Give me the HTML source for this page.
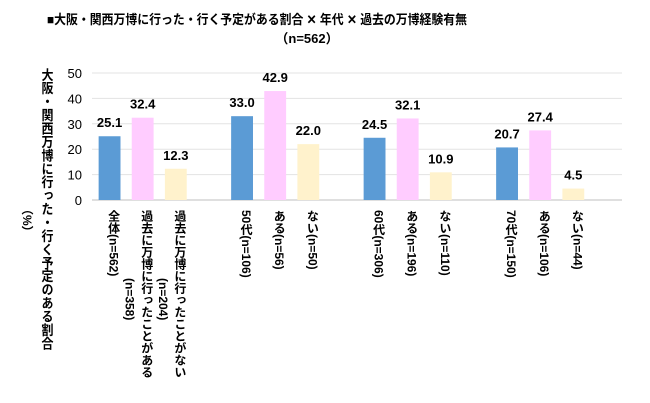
<!DOCTYPE html>
<html><head><meta charset="utf-8">
<style>
body{margin:0;background:#fff;}
svg{display:block;font-family:"Liberation Sans","Noto Sans CJK JP",sans-serif;}
.v{writing-mode:vertical-rl;font-weight:bold;font-size:12px;fill:#000;}
</style></head><body>
<svg id="chart" width="650" height="403" viewBox="0 0 650 403" xmlns="http://www.w3.org/2000/svg">
<text x="257" y="24" text-anchor="middle" font-size="13" font-weight="bold" textLength="420" lengthAdjust="spacingAndGlyphs">■大阪・関西万博に行った・行く予定がある割合 ✕ 年代 ✕ 過去の万博経験有無</text>
<text x="307" y="43" text-anchor="middle" font-size="13" font-weight="bold">（n=562）</text>
<text class="v" x="47" y="68" font-size="13" textLength="282" lengthAdjust="spacingAndGlyphs">大阪・関西万博に行った・行く予定のある割合</text>
<text class="v" x="27" y="203" font-size="13">（%）</text>
<g id="grid"></g><g id="bars"></g><g id="labels"></g>
</svg>
<script>
const categories=["全体(n=562)","過去に万博に行ったことがある|(n=358)","過去に万博に行ったことがない|(n=204)","","50代(n=106)","ある(n=56)","ない(n=50)","","60代(n=306)","ある(n=196)","ない(n=110)","","70代(n=150)","ある(n=106)","ない(n=44)",""];
const values=[25.1,32.4,12.3,null,33.0,42.9,22.0,null,24.5,32.1,10.9,null,20.7,27.4,4.5,null];
const valueLabels=["25.1","32.4","12.3","","33.0","42.9","22.0","","24.5","32.1","10.9","","20.7","27.4","4.5",""];
const seriesType=["all","yes","no","","all","yes","no","","all","yes","no","","all","yes","no",""];
const yTicks=[0,10,20,30,40,50];
const colors={all:"#5b9bd5",yes:"#ffccff",no:"#fff2cc"};
const NS="http://www.w3.org/2000/svg";
const L=92,R=622,T=73,B=200,yMax=50;
const slot=(R-L)/categories.length;
const y=v=>B-(v/yMax)*(B-T);
const x=i=>L+i*slot;
function mk(tag,attrs,parent){const e=document.createElementNS(NS,tag);for(const k in attrs)e.setAttribute(k,attrs[k]);document.getElementById(parent).appendChild(e);return e;}
yTicks.forEach(t=>{
  const g=mk("line",{x1:L,x2:R,y1:y(t),y2:y(t),stroke:t===0?"#bfbfbf":"#e3e3e3","stroke-width":1},"grid");
  
  
  const tl=mk("text",{x:L-10,y:y(t)+5,"text-anchor":"end","font-size":13,fill:"#000"},"grid");
  tl.textContent=t;
  
  
});
categories.forEach((c,i)=>{
  if(values[i]===null)return;
  const bw=slot*0.66, bx=x(i)+(slot-bw)/2+1;
  const r=mk("rect",{x:bx,y:y(values[i]),width:bw,height:B-y(values[i]),fill:colors[seriesType[i]]},"bars");
  
  
  const vl=mk("text",{x:bx+bw/2,y:y(values[i])-9,"text-anchor":"middle","font-size":13,"font-weight":"bold"},"labels");
  vl.textContent=valueLabels[i];
  
  
  const parts=c.split("|");
  const cx=bx+bw/2+4;
  const t1=mk("text",{class:"v",x:cx,y:210},"labels");
  t1.textContent=parts[0];
  
  
  if(parts[1]){
    const t2=mk("text",{class:"v",x:cx-17,y:278},"labels");
    t2.textContent=parts[1];
    
    
  }
});
</script>
</body></html>
